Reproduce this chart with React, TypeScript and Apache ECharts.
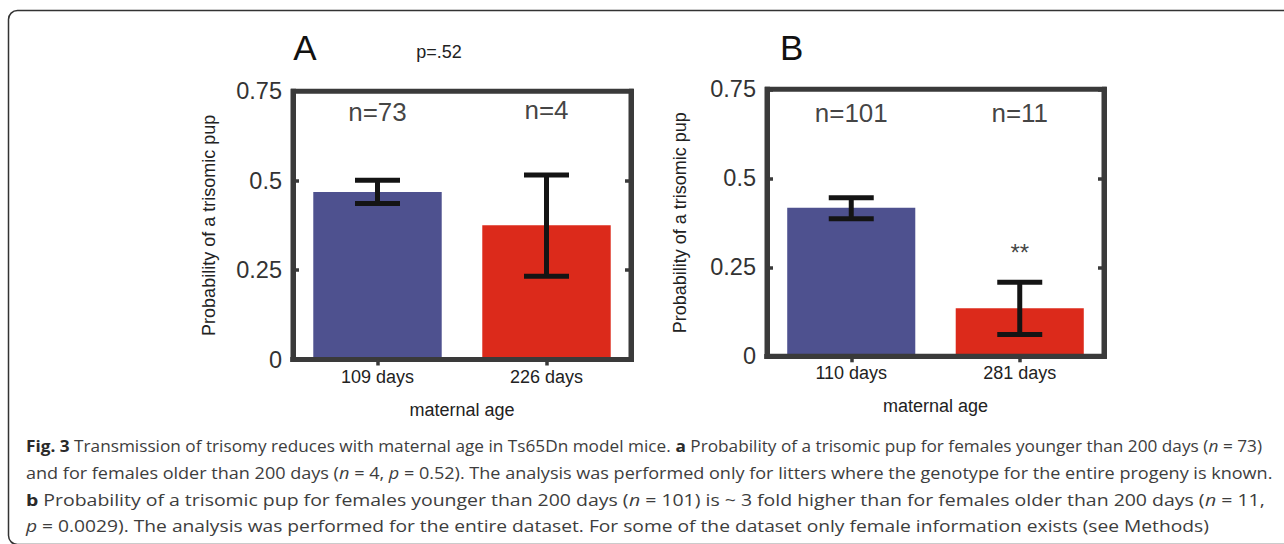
import React, { useEffect, useRef } from 'react';
import * as echarts from 'echarts';

// ---------- data ----------
const categoriesA = ['109 days', '226 days'];
const meansA = [0.468, 0.375];
const errLowA = [0.436, 0.233];
const errHighA = [0.501, 0.516];
const nLabelsA = ['n=73', 'n=4'];
const nLabelYA = [0.692, 0.697];

const categoriesB = ['110 days', '281 days'];
const meansB = [0.417, 0.135];
const errLowB = [0.3865, 0.061];
const errHighB = [0.4455, 0.208];
const nLabelsB = ['n=101', 'n=11'];
const nLabelYB = [0.683, 0.683];
const sigLabelsB = ['', '**'];
const sigYB = [0.292, 0.292];

const barColors = ['#4e518f', '#dc2a1b'];
const yMin = 0;
const yMax = 0.75;
const yStep = 0.25;

const panelLetters = ['A', 'B'];
const pValueText = 'p=.52';
const xAxisName = 'maternal age';
const yAxisName = 'Probability of a trisomic pup';

// caption: [style, text] segments; r = regular, b = bold, i = italic
const captionLine1: [string, string][] = [
  ['b', 'Fig. 3'],
  ['r', ' Transmission of trisomy reduces with maternal age in Ts65Dn model mice. '],
  ['b', 'a'],
  ['r', ' Probability of a trisomic pup for females younger than 200 days ('],
  ['i', 'n'],
  ['r', ' = 73)'],
];
const captionLine2: [string, string][] = [
  ['r', 'and for females older than 200 days ('],
  ['i', 'n'],
  ['r', ' = 4, '],
  ['i', 'p'],
  ['r', ' = 0.52). The analysis was performed only for litters where the genotype for the entire progeny is known.'],
];
const captionLine3: [string, string][] = [
  ['b', 'b'],
  ['r', ' Probability of a trisomic pup for females younger than 200 days ('],
  ['i', 'n'],
  ['r', ' = 101) is ~ 3 fold higher than for females older than 200 days ('],
  ['i', 'n'],
  ['r', ' = 11,'],
];
const captionLine4: [string, string][] = [
  ['i', 'p'],
  ['r', ' = 0.0029). The analysis was performed for the entire dataset. For some of the dataset only female information exists (see Methods)'],
];
const captionLines = [captionLine1, captionLine2, captionLine3, captionLine4];
const captionTargetWidths = [1236, 1247, 1239, 1184];

// ---------- styling ----------
const chartFont = '"Liberation Sans", Arial, Helvetica, sans-serif';
const captionFont = '"Open Sans", "Noto Sans", sans-serif';
const captionSize = 16;
const frameColor = '#3a3a3a';

function segFont(style: string) {
  return `${style === 'i' ? 'italic ' : ''}${style === 'b' ? 'bold ' : ''}${captionSize}px ${captionFont}`;
}

function measureSegs(segs: [string, string][]) {
  const ctx = document.createElement('canvas').getContext('2d')!;
  let w = 0;
  for (const [s, t] of segs) {
    ctx.font = segFont(s);
    w += ctx.measureText(t).width;
  }
  return w;
}

const richStyles = {
  r: { fontSize: captionSize, fontFamily: captionFont, fill: '#3d3d3d' },
  b: { fontSize: captionSize, fontFamily: captionFont, fontWeight: 'bold', fill: '#2a2a2a' },
  i: { fontSize: captionSize, fontFamily: captionFont, fontStyle: 'italic', fill: '#3d3d3d' },
};

function makeAxes(gridIndex: number, cats: string[], nameGapY: number, nameGapX: number) {
  const frameLine = { show: true, lineStyle: { color: frameColor, width: 5, cap: 'square' } };
  const tick = { show: true, inside: true, length: 6, lineStyle: { color: frameColor, width: 3.5 } };
  const xAxes = [
    {
      type: 'category', gridIndex, data: cats, position: 'bottom', z: 10,
      axisLine: frameLine, axisTick: { show: false },
      axisLabel: { fontSize: 18, color: '#222', margin: 8, fontFamily: chartFont },
      name: xAxisName, nameLocation: 'middle', nameGap: nameGapX,
      nameTextStyle: { fontSize: 18, color: '#222', fontFamily: chartFont },
    },
    {
      type: 'category', gridIndex, data: cats, position: 'top', z: 10,
      axisLine: frameLine, axisTick: { ...tick, alignWithLabel: true },
      axisLabel: { show: false },
    },
  ];
  const yAxes = [
    {
      type: 'value', gridIndex, min: yMin, max: yMax, interval: yStep, position: 'left', z: 10,
      axisLine: frameLine, axisTick: tick, splitLine: { show: false },
      axisLabel: { fontSize: 23.5, color: '#333', margin: 11, fontFamily: chartFont },
      name: yAxisName, nameLocation: 'middle', nameGap: nameGapY,
      nameTextStyle: { fontSize: 18, color: '#222', fontFamily: chartFont },
    },
    {
      type: 'value', gridIndex, min: yMin, max: yMax, interval: yStep, position: 'right', z: 10,
      axisLine: frameLine, axisTick: tick, splitLine: { show: false },
      axisLabel: { show: false },
    },
  ];
  return { xAxes, yAxes };
}

function errorBarRender(params: any, api: any) {
  const x = api.value(0);
  const lo = api.coord([x, api.value(1)]);
  const hi = api.coord([x, api.value(2)]);
  const hw = 22.5;
  const st = { stroke: '#141414', lineWidth: 5 };
  return {
    type: 'group',
    children: [
      { type: 'line', shape: { x1: lo[0], y1: lo[1], x2: hi[0], y2: hi[1] }, style: st },
      { type: 'line', shape: { x1: hi[0] - hw, y1: hi[1], x2: hi[0] + hw, y2: hi[1] }, style: st },
      { type: 'line', shape: { x1: lo[0] - hw, y1: lo[1], x2: lo[0] + hw, y2: lo[1] }, style: st },
    ],
  };
}

function panelSeries(
  axisIdx: number, cats: string[], means: number[], lo: number[], hi: number[],
  nLabels: string[], nY: number[],
) {
  return [
    {
      type: 'bar', xAxisIndex: axisIdx, yAxisIndex: axisIdx, barWidth: '76%',
      data: means.map((v, i) => ({ value: v, itemStyle: { color: barColors[i] } })),
    },
    {
      type: 'custom', xAxisIndex: axisIdx, yAxisIndex: axisIdx, renderItem: errorBarRender, z: 3,
      data: cats.map((_, i) => [i, lo[i], hi[i]]),
    },
    {
      type: 'scatter', xAxisIndex: axisIdx, yAxisIndex: axisIdx, symbolSize: 0, silent: true,
      data: cats.map((c, i) => ({ value: [c, nY[i]], label: { formatter: nLabels[i] } })),
      label: { show: true, position: 'inside', fontSize: 26, color: '#111', fontFamily: chartFont },
    },
  ];
}

export default function App() {
  const ref = useRef<HTMLDivElement>(null);
  useEffect(() => {
    if (!ref.current) return;
    const chart = echarts.init(ref.current, null, { renderer: 'svg' });

    const a = makeAxes(0, categoriesA, 75, 41);
    const b = makeAxes(1, categoriesB, 78, 41);
    const xAxis = [a.xAxes[0], a.xAxes[1], b.xAxes[0], b.xAxes[1]];
    const yAxis = [a.yAxes[0], a.yAxes[1], b.yAxes[0], b.yAxes[1]];
    // axis index mapping: panel A uses x 0 / y 0; panel B uses x 2 / y 2
    const seriesA = panelSeries(0, categoriesA, meansA, errLowA, errHighA, nLabelsA, nLabelYA);
    const seriesB = panelSeries(2, categoriesB, meansB, errLowB, errHighB, nLabelsB, nLabelYB);
    const sigSeries = {
      type: 'scatter', xAxisIndex: 2, yAxisIndex: 2, symbolSize: 0, silent: true,
      data: categoriesB.map((c, i) => ({ value: [c, sigYB[i]], label: { formatter: sigLabelsB[i] } })),
      label: { show: true, position: 'inside', fontSize: 24, color: '#111', fontFamily: chartFont },
    };

    const captionGraphics = captionLines.map((segs, i) => {
      const w = measureSegs(segs);
      const k = captionTargetWidths[i] / w;
      return {
        type: 'text', x: 26, y: 446 + i * 26.7, scaleX: k,
        style: {
          text: segs.map(([s, t]) => `{${s}|${t}}`).join(''),
          rich: richStyles,
          fontSize: captionSize, fontFamily: captionFont, fill: '#3d3d3d',
          align: 'left', verticalAlign: 'middle',
        },
      };
    });

    const gridFrame = { show: true, borderWidth: 5, borderColor: frameColor, backgroundColor: 'transparent', z: 10 };
    chart.setOption({
      animation: false,
      backgroundColor: '#fff',
      grid: [
        { left: 293, top: 91.2, width: 338, height: 268.3, ...gridFrame },
        { left: 767, top: 89.3, width: 337, height: 267, ...gridFrame },
      ],
      xAxis,
      yAxis,
      series: [...seriesA, ...seriesB, sigSeries],
      graphic: [
        {
          type: 'rect', shape: { x: 8.5, y: 10.5, width: 1300, height: 534, r: 9 },
          style: { fill: 'none', stroke: '#333', lineWidth: 1.5 }, z: -1,
        },
        {
          type: 'text', x: 305, y: 47,
          style: { text: panelLetters[0], fontSize: 35, fontFamily: chartFont, fill: '#111', align: 'center', verticalAlign: 'middle' },
        },
        {
          type: 'text', x: 791.7, y: 47,
          style: { text: panelLetters[1], fontSize: 35, fontFamily: chartFont, fill: '#111', align: 'center', verticalAlign: 'middle' },
        },
        {
          type: 'text', x: 439, y: 52,
          style: { text: pValueText, fontSize: 18, fontFamily: chartFont, fill: '#222', align: 'center', verticalAlign: 'middle' },
        },
        ...captionGraphics,
      ],
    });
    return () => chart.dispose();
  }, []);
  return (
    <div
      ref={ref}
      style={{ position: 'absolute', left: 0, top: 0, width: 1284, height: 544 }}
    />
  );
}
